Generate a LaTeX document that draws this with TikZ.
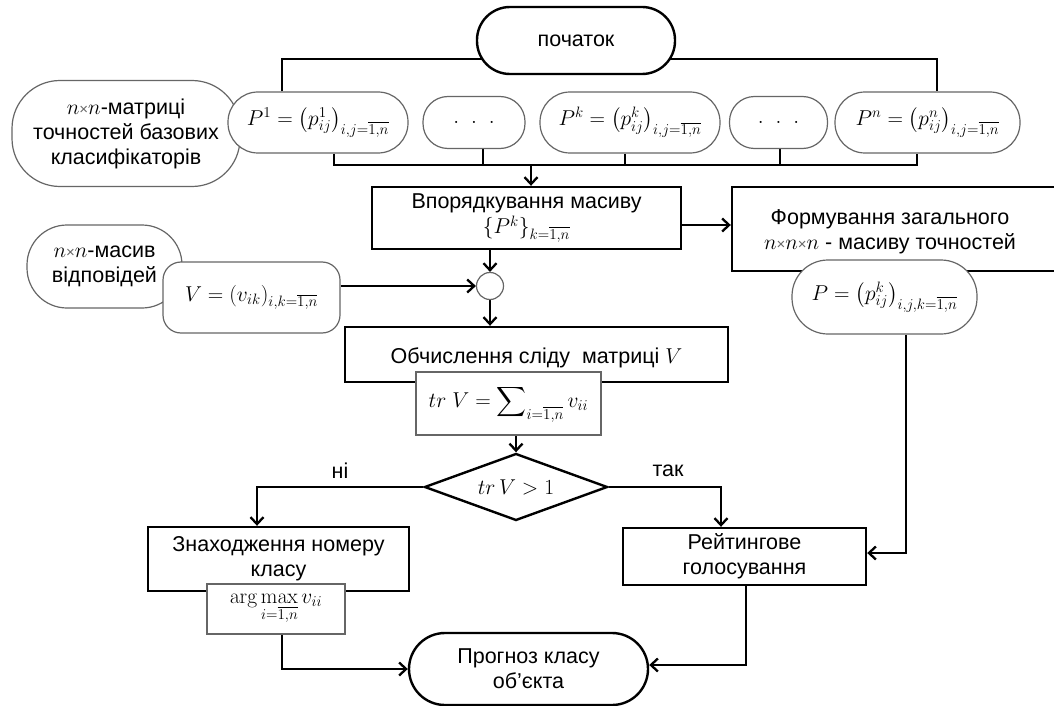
\RequirePackage{fix-cm}
\documentclass[tikz,border=0pt]{standalone}
\usepackage{amsmath}
\usepackage[no-math]{fontspec}
\setmainfont{Liberation Sans}
\usetikzlibrary{arrows.meta,calc,shapes.geometric,backgrounds}

% small multiplication sign used in "n x n"
\newcommand{\tms}{{\fontsize{15}{15}\selectfont\textcolor{black!60}{×}}}

\begin{document}
\begin{tikzpicture}[x=1pt,y=-1pt,
  font=\fontsize{21.5}{25}\selectfont,
  every node/.style={align=center,inner sep=0pt,fill=white},
  term/.style={draw,line width=2.4pt},
  data/.style={draw=black!60,line width=1.2pt},
  proc/.style={draw,line width=2.4pt},
  sub/.style={draw=black!60,line width=1.2pt},
  conn/.style={line width=2.3pt},
  thinconn/.style={line width=1.1pt},
  >={Straight Barb[length=7pt,width=13pt]}]

\useasboundingbox (0,0) rectangle (1054,706);
\clip (0,0) rectangle (1054,706);

% ---- start and the row of accuracy matrices
\node[term,minimum width=198pt,minimum height=67pt,rounded corners=33pt] (start) at (576,40.5) {початок};

\node[data,minimum width=228pt,minimum height=106pt,rounded corners=48pt] (mats) at (126,133.5)
  {$n$\tms$n$-матриці\\точностей базових\\класифікаторів};
\node[data,minimum width=180pt,minimum height=61pt,rounded corners=30pt] (p1) at (318,122.5)
  {$P^1=\left(p^1_{ij}\right)_{i,j=\overline{1,n}}$};
\node[data,minimum width=102pt,minimum height=52pt,rounded corners=25pt] (d1) at (474,122.5)
  {$.\;\;.\;\;.$};
\node[data,minimum width=180pt,minimum height=61pt,rounded corners=30pt] (pk) at (630,122.5)
  {$P^k=\left(p^k_{ij}\right)_{i,j=\overline{1,n}}$};
\node[data,minimum width=98pt,minimum height=52pt,rounded corners=25pt] (d2) at (778.5,122.5)
  {$.\;\;.\;\;.$};
\node[data,minimum width=185pt,minimum height=61pt,rounded corners=30pt] (pn) at (927.5,122.5)
  {$P^n=\left(p^n_{ij}\right)_{i,j=\overline{1,n}}$};

% ---- ordering and the general array
\node[proc,minimum width=309pt,minimum height=62pt] (sort) at (526.5,218)
  {Впорядкування масиву\\$\{P^k\}_{k=\overline{1,n}}$};
\node[proc,minimum width=332pt,minimum height=84pt,
  label={[fill=none,xshift=-8pt,yshift=-3pt]center:Формування загального\\$n$\tms$n$\tms$n$ - масиву точностей}]
  (form) at (898,229) {};
\node[data,minimum width=185pt,minimum height=74pt,rounded corners=36pt] (pall) at (884.5,297)
  {$P=\left(p^k_{ij}\right)_{i,j,k=\overline{1,n}}$};

% ---- answers matrix
\node[data,minimum width=155pt,minimum height=83pt,rounded corners=40pt] (resp) at (104.5,266.5)
  {$n$\tms$n$-масив\\відповідей};
\node[data,minimum width=177pt,minimum height=71pt,rounded corners=18pt] (vm) at (251.5,297.5)
  {$V=(v_{ik})_{i,k=\overline{1,n}}$};
\node[circle,draw=black!60,line width=1.2pt,minimum size=27pt] (join) at (490,286) {};

% ---- trace
\node[proc,minimum width=383pt,minimum height=55pt,
  label={[fill=none,yshift=-3pt]center:Обчислення сліду\ \ матриці $V$}]
  (calc) at (536.5,354.5) {};
\node[sub,minimum width=185pt,minimum height=63pt] (tr) at (508.5,403.5)
  {$\displaystyle tr\;V=\sum\nolimits_{i=\overline{1,n}}v_{ii}$};

% ---- decision
\node[draw,diamond,line width=2.4pt,aspect=2.7,minimum width=183pt,minimum height=67pt] (dec) at (516,487)
  {$tr\,V>1$};
\node (lno) at (340,471) {ні};
\node (lyes) at (668,471) {так};

% ---- branches
\node[proc,minimum width=261pt,minimum height=64pt] (find) at (278.5,559)
  {Знаходження номеру\\класу};
\node[sub,minimum width=138pt,minimum height=50pt] (amax) at (276,609)
  {$\arg\max\limits_{i=\overline{1,n}} v_{ii}$};
\node[proc,minimum width=243pt,minimum height=57pt] (vote) at (744.5,556.5)
  {Рейтингове\\голосування};

\node[term,minimum width=239pt,minimum height=72pt,rounded corners=36pt] (out) at (528.5,669)
  {Прогноз класу\\об’єкта};

% ---- connectors
\begin{scope}[on background layer]
  \coordinate (jl) at (282,59);
  \coordinate (jr) at (937,59);
  \draw[thinconn] (p1.north -| jl) -- (jl) -- (jr) -- (pn.north -| jr);

  \coordinate (b1) at (334,165);
  \coordinate (b2) at (483,165);
  \coordinate (b3) at (625,165);
  \coordinate (b4) at (780,165);
  \coordinate (b5) at (917,165);
  \coordinate (bm) at (531,165);
  \draw[conn] (p1.south -| b1) -- (b1) -- (b5) -- (pn.south -| b5);
  \draw[conn] (d1.south -| b2) -- (b2);
  \draw[conn] (pk.south -| b3) -- (b3);
  \draw[conn] (d2.south -| b4) -- (b4);
  \draw[conn,->] (bm) -- (sort.north -| bm);

  \coordinate (ya) at (700,225);
  \draw[conn,->] (sort.east |- ya) -- (form.west |- ya);
  \draw[conn,->] (sort.south -| join) -- (join.north);
  \draw[conn,->] (vm.east |- join) -- (join.west);
  \draw[conn,->] (join.south) -- (calc.north -| join);
  \draw[conn,->] (tr.south -| dec) -- (dec.north);

  \coordinate (nl) at (257,487);
  \coordinate (yr) at (721,487);
  \draw[conn,->] (dec.west) -- (nl) -- (find.north -| nl);
  \draw[conn,->] (dec.east) -- (yr) -- (vote.north -| yr);

  \coordinate (pc) at (906,553);
  \draw[conn,->] (pall.south -| pc) -- (pc) -- (vote.east |- pc);

  \coordinate (ac) at (282,669);
  \draw[conn,->] (amax.south -| ac) -- (ac) -- (out.west |- ac);
  \coordinate (vc) at (746,665);
  \draw[conn,->] (vote.south -| vc) -- (vc) -- (out.east |- vc);
\end{scope}
\end{tikzpicture}
\end{document}
